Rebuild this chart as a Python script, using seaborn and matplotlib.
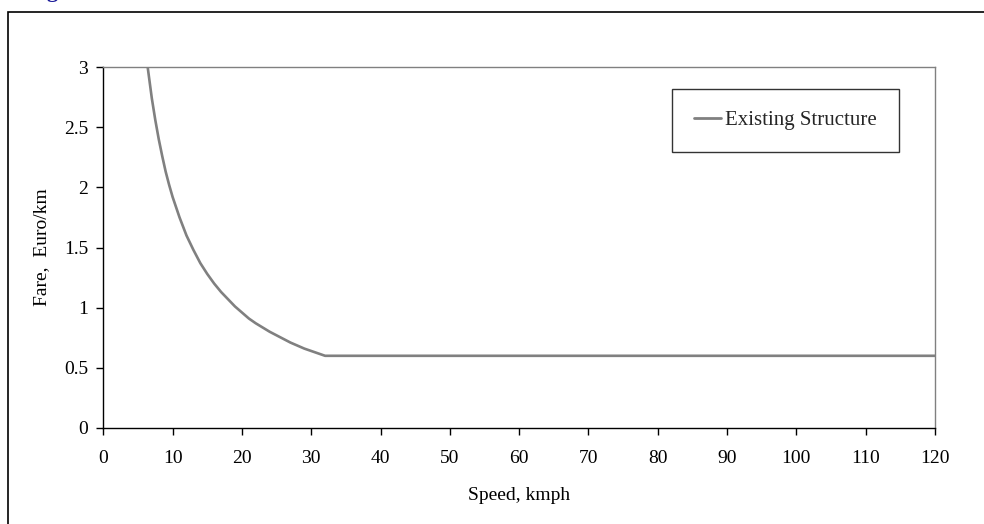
import matplotlib
matplotlib.use("Agg")
import matplotlib.pyplot as plt
from matplotlib.patches import Rectangle
import seaborn as sns
import pandas as pd

# Fare per km against average speed
speed_kmph = [6.4, 6.7, 7, 7.5, 8, 8.5, 9, 9.5, 10, 11, 12, 13, 14, 15, 16, 17, 18, 19, 20,
              21, 22, 23, 24, 25, 26, 27, 28, 29, 30, 31, 32, 120]
fare_euro_per_km = [3.0, 2.87, 2.74, 2.56, 2.40, 2.26, 2.13, 2.02, 1.92, 1.75, 1.60, 1.48,
                    1.37, 1.28, 1.20, 1.13, 1.07, 1.01, 0.96, 0.91, 0.87, 0.835, 0.80,
                    0.77, 0.74, 0.71, 0.685, 0.66, 0.64, 0.62, 0.60, 0.60]
series_name = "Existing Structure"

x_ticks = [0, 10, 20, 30, 40, 50, 60, 70, 80, 90, 100, 110, 120]
y_ticks = [0, 0.5, 1, 1.5, 2, 2.5, 3]
y_tick_labels = ["0", "0.5", "1", "1.5", "2", "2.5", "3"]

df = pd.DataFrame({"speed": speed_kmph, "fare": fare_euro_per_km, "series": series_name})

sns.set_theme(style="white")
plt.rcParams["font.family"] = ["Liberation Serif", "DejaVu Serif"]
plt.rcParams["font.size"] = 14

fig = plt.figure(figsize=(9.84, 5.24), dpi=100)
W, H = 984, 524
ax = fig.add_axes([103.3 / W, 1 - 428 / H, (935 - 103.3) / W, (428 - 67) / H])

sns.lineplot(data=df, x="speed", y="fare", hue="series", palette=["#808080"],
             linewidth=1.9, ax=ax, sort=False, estimator=None)

ax.set_xlim(0, 120)
ax.set_ylim(0, 3)
ax.set_xticks(x_ticks)
ax.set_xticklabels([str(t) for t in x_ticks])
ax.set_yticks(y_ticks)
ax.set_yticklabels(y_tick_labels)
ax.tick_params(axis="both", direction="out", length=5, width=1, color="black",
               labelsize=14, labelcolor="black")
ax.tick_params(axis="x", pad=11, bottom=True)
ax.tick_params(axis="y", pad=6, left=True)

for side in ("left", "bottom"):
    ax.spines[side].set_color("black")
    ax.spines[side].set_linewidth(1.0)
for side in ("top", "right"):
    ax.spines[side].set_color("#808080")
    ax.spines[side].set_linewidth(1.0)
ax.grid(False)

ax.set_xlabel("Speed, kmph", fontsize=14, labelpad=14, color="black")
ax.set_ylabel("Fare,  Euro/km", fontsize=14, labelpad=10, color="black")

leg = ax.legend(loc="upper left", bbox_to_anchor=((672 - 103.3) / (935 - 103.3),
                                                  (428 - 89) / (428 - 67)),
                frameon=True, fancybox=False, edgecolor="black", fontsize=15,
                handlelength=1.3, handletextpad=0.2, borderpad=1.05,
                borderaxespad=0)
leg.get_frame().set_linewidth(1.0)
for line in leg.get_lines():
    line.set_linewidth(2.0)

# outer chart frame
fig.patches.append(Rectangle((8 / W, -0.05), 1.1, 1 - 12 / H + 0.05,
                             transform=fig.transFigure, fill=False,
                             edgecolor="black", linewidth=1.2, clip_on=False))

# figure caption above the frame
fig.text(28 / W, 1 + 2.5 / H, "Figure", color="#1a1a99", fontsize=16,
         fontweight="bold", va="baseline", ha="left")

fig.savefig("out.png", dpi=100)
